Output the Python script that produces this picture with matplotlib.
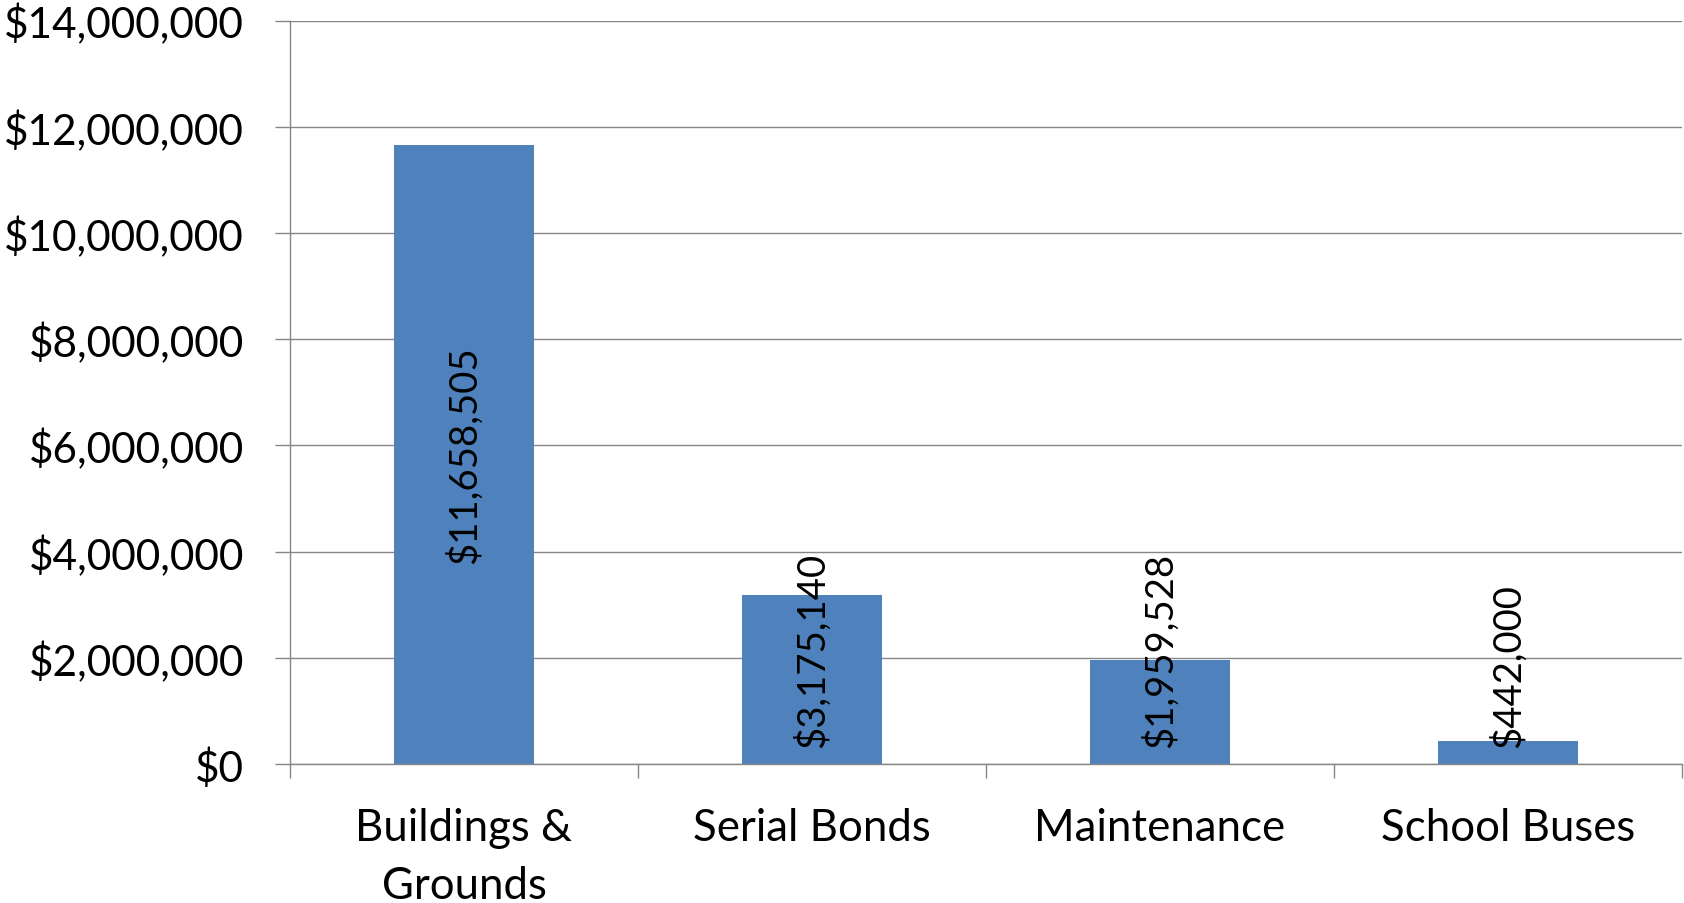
import matplotlib
matplotlib.use("Agg")
import matplotlib.pyplot as plt
from matplotlib.ticker import FuncFormatter, FixedLocator
import numpy as np

plt.rcParams['font.family'] = ['Lato', 'DejaVu Sans']

# Chart data
categories = ["Buildings &\nGrounds", "Serial Bonds", "Maintenance", "School Buses"]
amounts = [11658505, 3175140, 1959528, 442000]
y_ticks = [0, 2000000, 4000000, 6000000, 8000000, 10000000, 12000000, 14000000]

bar_color = "#4F81BD"
grid_color = "#868686"

fig = plt.figure(figsize=(16.84, 9.04), dpi=100)
ax = fig.add_axes([290 / 1684, 139 / 904, 1392 / 1684, 743.5 / 904])

x = np.arange(len(categories))
bars = ax.bar(x, amounts, width=0.40, color=bar_color, zorder=3)

ax.set_xlim(-0.5, len(categories) - 0.5)
ax.set_ylim(0, 14000000)

# Gridlines and y axis
ax.set_yticks(y_ticks)
ax.yaxis.set_major_formatter(FuncFormatter(lambda v, p: f"${v:,.0f}"))
ax.yaxis.grid(True, color=grid_color, linewidth=1.0, zorder=0)
ax.tick_params(axis="y", direction="out", length=11, width=1.0, color=grid_color,
               labelsize=30.5, pad=22)

# x axis: labels at the centres, ticks at category boundaries
ax.set_xticks(x)
ax.set_xticklabels(categories, fontsize=31.5, linespacing=1.5)
ax.tick_params(axis="x", which="major", length=0, pad=31)
ax.xaxis.set_minor_locator(FixedLocator(np.arange(len(categories) + 1) - 0.5))
ax.tick_params(axis="x", which="minor", direction="out", length=10, width=1.0, color=grid_color)

for side in ["top", "right"]:
    ax.spines[side].set_visible(False)
for side in ["left", "bottom"]:
    ax.spines[side].set_color(grid_color)
    ax.spines[side].set_linewidth(1.0)
    ax.spines[side].set_zorder(4)

# Value labels, rotated, centred in the bar, or lifted off the base when the bar is short
for xi, val in zip(x, amounts):
    label = f"${val:,.0f}"
    if val > 6000000:
        ax.text(xi, val / 2, label, rotation=90, ha="center", va="center",
                fontsize=27.5, zorder=5)
    else:
        ax.annotate(label, (xi, 0), xytext=(0, 12), textcoords="offset points",
                    rotation=90, ha="center", va="bottom", fontsize=27.5, zorder=5)

fig.savefig("out.png", dpi=100)
